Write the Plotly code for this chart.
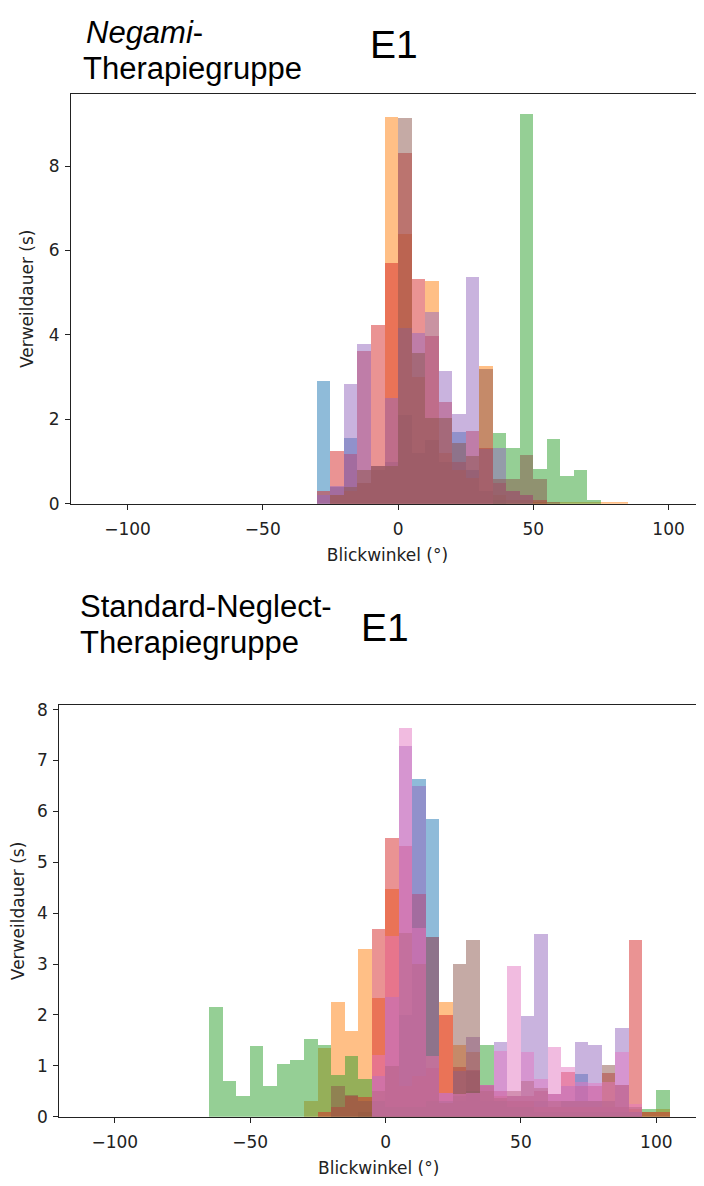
import plotly.graph_objects as go

# ---------------- data: top panel (Negami-Therapiegruppe) ----------------
top_bins = [-30, -25, -20, -15, -10, -5, 0, 5, 10, 15, 20, 25, 30, 35, 40, 45,
            50, 55, 60, 65, 70, 75, 80]
top_blue   = [2.92, 0.40, 1.56, 0.50, 0.80, 1.00, 2.10, 1.20, 1.50, 1.00, 1.71, 0.80,
              0.30, 0.10, 0.00, 0.00, 0.00, 0.00, 0.00, 0.00, 0.00, 0.00, 0.00]
top_orange = [0.00, 0.20, 0.30, 0.50, 0.90, 9.17, 6.40, 3.00, 5.28, 1.20, 0.80, 0.60,
              3.27, 0.20, 0.10, 0.10, 0.05, 0.05, 0.05, 0.05, 0.03, 0.03, 0.03]
top_green  = [0.00, 0.00, 0.00, 0.00, 0.00, 0.00, 0.00, 0.00, 0.00, 0.00, 0.00, 0.00,
              0.00, 1.68, 1.33, 9.23, 0.83, 1.54, 0.66, 0.80, 0.08, 0.00, 0.00]
top_red    = [0.31, 1.25, 1.17, 3.61, 4.23, 5.70, 8.32, 5.33, 3.97, 2.40, 1.00, 1.73,
              1.33, 0.50, 0.30, 0.20, 0.10, 0.00, 0.00, 0.00, 0.00, 0.00, 0.00]
top_purple = [0.20, 0.43, 2.84, 3.78, 0.90, 2.50, 4.16, 4.05, 4.55, 3.15, 2.12, 5.37,
              1.30, 1.33, 0.30, 0.20, 0.00, 0.00, 0.00, 0.00, 0.00, 0.00, 0.00]
top_brown  = [0.00, 0.20, 0.40, 0.80, 0.90, 0.90, 9.13, 3.58, 2.03, 2.02, 1.44, 1.13,
              3.20, 0.59, 0.59, 1.15, 0.59, 0.05, 0.00, 0.00, 0.00, 0.00, 0.00]

# ---------------- data: bottom panel (Standard-Neglect-Therapiegruppe) ----------------
bot_bins = [-65, -60, -55, -50, -45, -40, -35, -30, -25, -20, -15, -10, -5, 0, 5, 10,
            15, 20, 25, 30, 35, 40, 45, 50, 55, 60, 65, 70, 75, 80, 85, 90, 95, 100]
bot_blue   = [0, 0, 0, 0, 0, 0, 0, 0, 0, 0, 0, 0.10, 0.30, 1.00, 2.00, 6.64,
              5.85, 0.30, 0.30, 0.90, 0.30, 0.30, 0.30, 0.30, 0.30, 0.20, 0.30, 0.83,
              0.30, 0.30, 0.20, 0.10, 0, 0]
bot_orange = [0, 0, 0, 0, 0, 0, 0, 0.30, 1.35, 2.26, 1.69, 3.29, 2.34, 4.48, 0.60, 0.80,
              1.20, 2.25, 1.40, 1.27, 0.60, 0.40, 0.30, 0.30, 0.20, 0.20, 0.20, 0.20,
              0.20, 0.20, 0.20, 0.15, 0.10, 0.16]
bot_green  = [2.15, 0.71, 0.40, 1.38, 0.60, 1.04, 1.12, 1.52, 1.40, 0.82, 1.20, 0.74,
              0.30, 0.20, 0.20, 0.20, 0.30, 0.30, 0.40, 0.50, 1.40, 0.30, 0.20, 0.20,
              0.10, 0.10, 0.10, 0.10, 0.10, 0.10, 0.10, 0.10, 0.15, 0.53]
bot_red    = [0, 0, 0, 0, 0, 0, 0, 0, 0.10, 0.20, 0.40, 0.38, 3.69, 5.48, 5.31, 4.38,
              0.95, 2.00, 0.97, 0.92, 0.63, 0.50, 0.40, 0.40, 0.50, 0.44, 0.88, 0.60,
              0.60, 0.85, 0.63, 3.48, 0.10, 0.10]
bot_purple = [0, 0, 0, 0, 0, 0, 0, 0, 0, 0, 0, 0, 0.80, 2.35, 7.28, 6.50,
              3.54, 0.47, 0.90, 1.57, 0.63, 1.46, 0.40, 1.97, 3.59, 0.44, 0.60, 1.46,
              1.41, 0.20, 1.75, 0.10, 0, 0]
bot_brown  = [0, 0, 0, 0, 0, 0, 0, 0, 0, 0.60, 0.43, 0.30, 0.50, 1.00, 3.60, 3.00,
              3.54, 0.27, 3.00, 3.48, 0.50, 0.37, 0.50, 0.70, 0.57, 0.30, 0.30, 0.30,
              0.30, 1.01, 0.63, 0.20, 0, 0]
bot_pink   = [0, 0, 0, 0, 0, 0, 0, 0, 0, 0, 0, 0, 1.21, 3.55, 7.63, 3.70,
              1.20, 0.47, 0.44, 0.47, 0.63, 1.30, 2.97, 1.27, 0.75, 1.37, 0.97, 0.68,
              0.67, 0.69, 1.27, 0.24, 0, 0]

BIN_W = 5
COLORS = ["rgba(31,119,180,0.5)", "rgba(255,127,14,0.5)", "rgba(44,160,44,0.5)",
          "rgba(214,39,40,0.5)", "rgba(148,103,189,0.5)", "rgba(140,86,75,0.5)",
          "rgba(227,119,194,0.5)"]

fig = go.Figure()

def add_hist(bins, vals, color, xa, ya):
    fig.add_trace(go.Bar(
        x=[b + BIN_W / 2 for b in bins], y=vals, width=BIN_W,
        marker=dict(color=color, line=dict(width=0)),
        xaxis=xa, yaxis=ya, showlegend=False, hoverinfo="skip"))

for vals, c in zip([top_blue, top_orange, top_green, top_red, top_purple, top_brown],
                   COLORS[:6]):
    add_hist(top_bins, vals, c, "x", "y")
for vals, c in zip([bot_blue, bot_orange, bot_green, bot_red, bot_purple, bot_brown,
                    bot_pink], COLORS):
    add_hist(bot_bins, vals, c, "x2", "y2")

# page has an 8px body margin: figure coordinates = page coordinates - 8
OFF = 8
W, H = 704 - OFF, 1186 - OFF
tick_font = dict(family="DejaVu Sans", size=17, color="#222")
lab_font = dict(family="DejaVu Sans", size=17, color="#222")

def px(v):
    return (v - OFF) / W

def py(v):
    return 1 - (v - OFF) / H

def xax(domain, rng, anchor):
    return dict(domain=domain, range=rng, anchor=anchor, tickvals=[-100, -50, 0, 50, 100],
                ticktext=["\u2212100", "\u221250", "0", "50", "100"],
                ticks="outside", ticklen=5, tickcolor="#222", showline=True,
                linecolor="#222", linewidth=1.2, mirror=True, showgrid=False,
                zeroline=False, tickfont=tick_font, ticklabelstandoff=5,
                title=dict(text="Blickwinkel (\u00b0)", font=lab_font, standoff=10))

def yax(domain, rng, anchor, tv, mirror):
    return dict(domain=domain, range=rng, anchor=anchor, tickvals=tv,
                ticks="outside", ticklen=5, tickcolor="#222", showline=True,
                linecolor="#222", linewidth=1.2, mirror=mirror, showgrid=False,
                zeroline=False, tickfont=tick_font, ticklabelstandoff=2,
                title=dict(text="Verweildauer (s)", font=lab_font, standoff=10))

fig.update_layout(
    width=W, height=H, margin=dict(l=0, r=0, t=0, b=0),
    paper_bgcolor="white", plot_bgcolor="white", barmode="overlay", bargap=0,
    xaxis=xax([px(71), 1.0], [-120.9, 113.1], "y"),
    yaxis=yax([py(505), py(90)], [0, 9.71], "x", [0, 2, 4, 6, 8], False),
    xaxis2=xax([px(59.3), px(698)], [-120.5, 115.4], "y2"),
    yaxis2=yax([py(1126), py(709)], [0, 8.09], "x2",
               [0, 1, 2, 3, 4, 5, 6, 7, 8], True),
)

tfont = dict(family="Liberation Sans, Arial", size=31, color="black")
ann = [
    dict(text="<i>Negami</i>-", x=84, y=28),
    dict(text="Therapiegruppe", x=81, y=64),
    dict(text="Standard-Neglect-", x=78, y=609),
    dict(text="Therapiegruppe", x=78, y=646),
]
for a in ann:
    fig.add_annotation(text=a["text"], x=px(a["x"]), y=py(a["y"]), xref="paper",
                       yref="paper", xanchor="left", yanchor="middle", showarrow=False,
                       font=tfont)
for txt, x, y in [("E1", 394, 40), ("E1", 385, 630)]:
    fig.add_annotation(text=txt, x=px(x), y=py(y), xref="paper", yref="paper",
                       xanchor="center", yanchor="middle", showarrow=False,
                       font=dict(family="Liberation Sans, Arial", size=39, color="black"))

fig.write_html("out.html")
